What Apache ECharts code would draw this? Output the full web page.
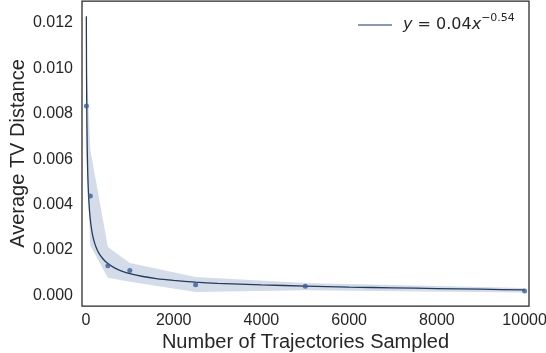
<!DOCTYPE html>
<html>
<head>
<meta charset="utf-8">
<script src="https://cdn.jsdelivr.net/npm/echarts@6/dist/echarts.min.js"></script>
<style>
  html, body { margin: 0; padding: 0; background: #fff; }
  #chart { width: 546px; height: 353px; }
</style>
</head>
<body>
<div id="chart"></div>
<script>
// sampled trajectories and measured average TV distance
const sampleCounts = [10, 100, 500, 1000, 2500, 5000, 10000];
const avgTv = [0.00834, 0.00438, 0.0013, 0.00109, 0.00047, 0.0004, 0.00019];
// confidence band
const bandUpper = [0.0105, 0.0064, 0.00213, 0.00143, 0.00081, 0.00054, 0.00032];
const bandLower = [0.0062, 0.0022, 0.00078, 0.0006, 0.00015, 0.00022, 0.00012];
// fitted curve y = 0.04 x^-0.54, sampled along the drawn line
const fitX = [9, 10, 12, 15, 20, 25, 30, 40, 50, 60, 80, 100, 130, 160, 200, 250, 300, 400,
  500, 650, 800, 1000, 1300, 1600, 2000, 2500, 3000, 4000, 5000, 6000, 7000, 8000, 9000, 10000];
const fitY = [0.0123, 0.01154, 0.01045, 0.00927, 0.00794, 0.00703, 0.00637, 0.00546, 0.00484,
  0.00438, 0.00376, 0.00333, 0.00289, 0.00258, 0.00229, 0.00203, 0.00184, 0.00158,
  0.0014, 0.00121, 0.00108, 0.00096, 0.00083, 0.00074, 0.00066, 0.00058, 0.00053,
  0.00046, 0.00041, 0.00036, 0.00033, 0.0003, 0.00027, 0.00024];
const xTicks = [0, 2000, 4000, 6000, 8000, 10000];
const yTicks = [0, 0.002, 0.004, 0.006, 0.008, 0.01, 0.012];

const ink = "#262626";
const tickFont = "'Liberation Sans', Arial, sans-serif";

const chart = echarts.init(document.getElementById("chart"));

const bandData = sampleCounts.map((x, i) => [x, bandUpper[i], bandLower[i]]);

chart.setOption({
  animation: false,
  grid: {
    left: 82, right: 17, top: 1, bottom: 47,
    outerBoundsMode: "none",
    containLabel: false,
    show: true,
    borderColor: ink,
    borderWidth: 1.25,
    backgroundColor: "#fff",
  },
  legend: {
    left: 353,
    top: 8,
    icon: "rect",
    itemWidth: 34,
    itemHeight: 2,
    itemGap: 0,
    data: [{ name: "fit", itemStyle: { color: "#8c9ab0" } }],
    formatter: () => "{i|y} = 0.04{i|x}{s|−0.54}",
    textStyle: {
      color: ink,
      fontFamily: "'DejaVu Sans', sans-serif",
      fontSize: 16,
      lineHeight: 24,
      padding: [0, 0, 0, 6],
      rich: {
        i: { fontFamily: "'DejaVu Sans'", fontStyle: "italic", fontSize: 16, color: ink, lineHeight: 24 },
        s: { fontFamily: "'DejaVu Sans'", fontSize: 11, color: ink, lineHeight: 11, verticalAlign: "top" },
      },
    },
  },
  xAxis: {
    type: "value",
    min: -90,
    max: 10100,
    name: "Number of Trajectories Sampled",
    nameLocation: "middle",
    nameGap: 26,
    nameMoveOverlap: false,
    nameTextStyle: { color: ink, fontSize: 20, fontFamily: tickFont },
    axisLine: { show: false },
    axisTick: { show: false },
    splitLine: { show: false },
    axisLabel: {
      customValues: xTicks,
      formatter: (v) => String(v),
      color: ink,
      fontSize: 16,
      fontFamily: tickFont,
      margin: 7,
    },
  },
  yAxis: {
    type: "value",
    min: -0.00047,
    max: 0.01297,
    name: "Average TV Distance",
    nameLocation: "middle",
    nameGap: 54,
    nameMoveOverlap: false,
    nameTextStyle: { color: ink, fontSize: 20, fontFamily: tickFont },
    axisLine: { show: false },
    axisTick: { show: false },
    splitLine: { show: false },
    axisLabel: {
      customValues: yTicks,
      formatter: (v) => v.toFixed(3),
      color: ink,
      fontSize: 16,
      fontFamily: tickFont,
      margin: 9,
    },
  },
  series: [
    {
      name: "band",
      type: "custom",
      silent: true,
      z: 1,
      data: bandData,
      renderItem: (params, api) => {
        if (params.dataIndex !== 0) return null;
        const top = bandData.map((d) => api.coord([d[0], d[1]]));
        const bottom = bandData.map((d) => api.coord([d[0], d[2]])).reverse();
        return {
          type: "polygon",
          shape: { points: top.concat(bottom) },
          style: { fill: "#d4dcea", stroke: null },
        };
      },
    },
    {
      name: "fit",
      type: "line",
      z: 3,
      symbol: "none",
      smooth: 0.2,
      data: fitX.map((x, i) => [x, fitY[i]]),
      lineStyle: { color: "#253a5c", width: 1.3 },
      itemStyle: { color: "#8c9ab0" },
    },
    {
      name: "measured",
      type: "scatter",
      z: 4,
      symbolSize: 5,
      data: sampleCounts.map((x, i) => [x, avgTv[i]]),
      itemStyle: { color: "#3a5a96" },
    },
  ],
});
</script>
</body>
</html>
